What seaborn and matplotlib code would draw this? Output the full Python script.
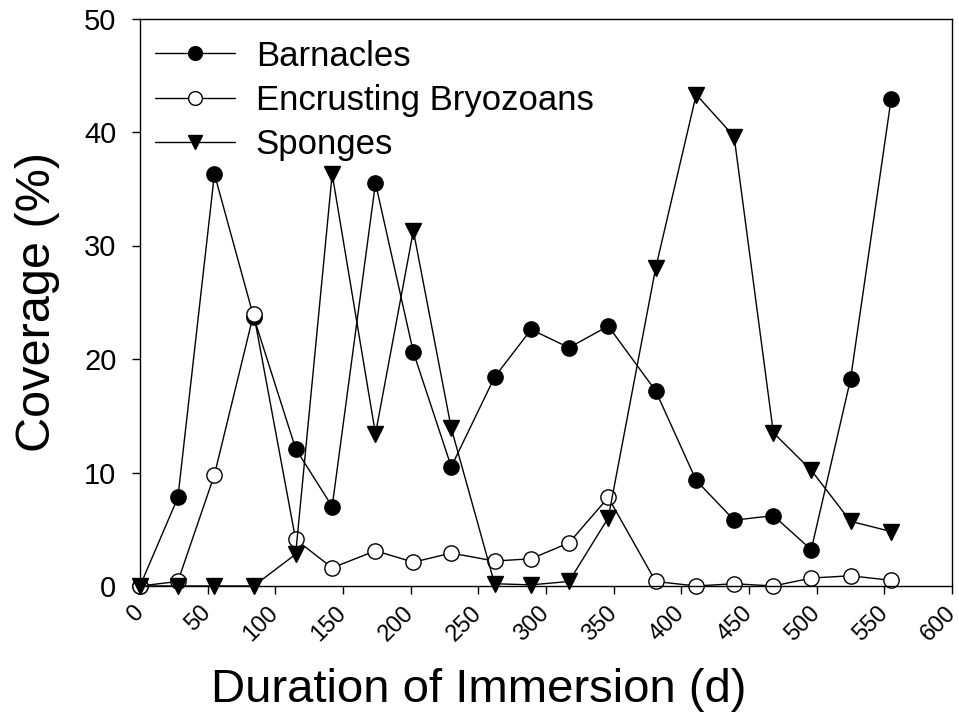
import matplotlib
matplotlib.use("Agg")
import matplotlib.pyplot as plt
import seaborn as sns
import pandas as pd

# ---- data ----
days = [0, 28, 55, 84, 115, 142, 174, 202, 230, 262, 289, 317, 346, 381, 411, 439, 468, 496, 525, 555]
barnacles = [0.0, 7.8, 36.3, 23.7, 12.1, 7.0, 35.5, 20.6, 10.5, 18.4, 22.6, 21.0, 22.9, 17.2, 9.3, 5.8, 6.2, 3.2, 18.2, 42.9]
bryozoans = [0.0, 0.4, 9.8, 24.0, 4.1, 1.6, 3.1, 2.1, 2.9, 2.2, 2.4, 3.8, 7.8, 0.4, 0.0, 0.2, 0.0, 0.7, 0.9, 0.5]
sponges = [0.0, 0.0, 0.0, 0.0, 2.8, 36.3, 13.4, 31.3, 13.9, 0.2, 0.1, 0.4, 6.0, 28.0, 43.3, 39.6, 13.5, 10.2, 5.7, 4.8]
series_names = ["Barnacles", "Encrusting Bryozoans", "Sponges"]
x_ticks = [0, 50, 100, 150, 200, 250, 300, 350, 400, 450, 500, 550, 600]
y_ticks = [0, 10, 20, 30, 40, 50]

sns.set_theme(style="ticks")
plt.rcParams["font.family"] = ["Liberation Sans", "DejaVu Sans"]
plt.rcParams["text.color"] = "black"
plt.rcParams["axes.labelcolor"] = "black"
plt.rcParams["xtick.color"] = "black"
plt.rcParams["ytick.color"] = "black"

fig = plt.figure(figsize=(9.59, 7.28), dpi=100)
ax = fig.add_axes([140 / 959, 1 - 586 / 728, 812 / 959, 567.5 / 728])

styles = [
    dict(marker="o", markerfacecolor="black"),
    dict(marker="o", markerfacecolor="white"),
    dict(marker="v", markerfacecolor="black"),
]
for name, vals, st in zip(series_names, [barnacles, bryozoans, sponges], styles):
    df = pd.DataFrame({"Duration": days, "Coverage": vals})
    sns.lineplot(data=df, x="Duration", y="Coverage", ax=ax, color="black",
                 linewidth=1.0, markersize=11, markeredgecolor="black",
                 markeredgewidth=1.0, label=name, estimator=None, sort=False,
                 clip_on=False, **st)

ax.set_xlim(0, 600)
ax.set_ylim(0, 50)
ax.set_xticks(x_ticks)
ax.set_yticks(y_ticks)
ax.set_xticklabels([str(t) for t in x_ticks], rotation=45, ha="right",
                   va="center", rotation_mode="anchor", fontsize=17)
ax.set_yticklabels([str(t) for t in y_ticks], fontsize=21)
ax.tick_params(axis="both", direction="out", length=6, width=1.0, colors="black",
               top=False, right=False)
ax.tick_params(axis="x", pad=11)
ax.tick_params(axis="y", pad=11)
for s in ax.spines.values():
    s.set_color("black")
    s.set_linewidth(1.0)

ax.set_xlabel("Duration of Immersion (d)", fontsize=34)
ax.set_ylabel("Coverage (%)", fontsize=35)
ax.xaxis.set_label_coords((479 - 140) / 812, -0.183)
ax.xaxis.label.set_va("center")
ax.yaxis.set_label_coords((38 - 140) / 812, 0.5)
ax.yaxis.label.set_va("center")

leg = ax.legend(loc="upper left", bbox_to_anchor=(15 / 812, 1 - 21 / 567.5),
                frameon=False, fontsize=25, handlelength=2.3, handletextpad=0.6,
                labelspacing=0.33, borderpad=0, borderaxespad=0, markerscale=0.9)

fig.savefig("out.png", dpi=100)
